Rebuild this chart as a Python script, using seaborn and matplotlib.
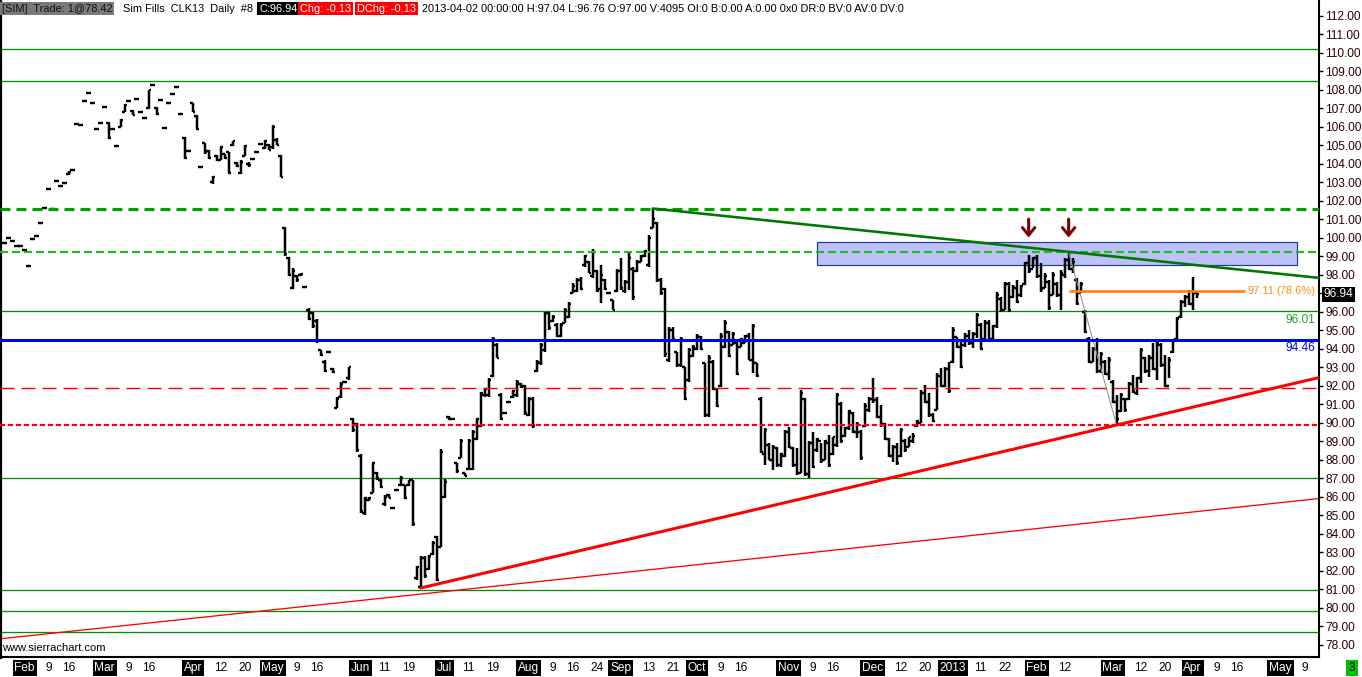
import pandas as pd
import matplotlib
matplotlib.use("Agg")
import matplotlib.pyplot as plt
import matplotlib.transforms as mtrans
from matplotlib.patches import Rectangle
import seaborn as sns

# ---------------- DATA (CLK13 daily bars) ----------------
highs = [
    99.68, 100.00, 99.79, 99.52, 99.52, 99.32, 98.44, 99.90, 100.06, 100.81,
    101.62, 102.60, 101.52, 103.08, 102.76, 102.97, 103.60, 103.67, 106.12, 106.06,
    107.40, 107.83, 107.29, 105.86, 106.21, 107.05, 106.24, 105.89, 104.97, 106.40,
    107.20, 107.40, 106.87, 107.50, 106.80, 106.48, 107.99, 108.26, 107.05, 107.45,
    105.94, 107.29, 107.78, 108.15, 106.70, 105.44, 104.66, 107.30, 106.60, 103.82,
    105.11, 104.71, 103.31, 104.45, 104.93, 104.54, 104.62, 105.22, 104.08, 104.18,
    104.98, 104.08, 104.22, 104.61, 105.08, 105.26, 105.08, 106.10, 105.38, 104.45,
    100.56, 98.96, 98.33, 97.97, 98.09, 97.34, 96.17, 95.99, 95.58, 93.92,
    93.38, 93.80, 92.97, 91.40, 92.21, 92.21, 93.02, 90.27, 89.97, 88.29,
    85.97, 85.97, 87.86, 87.35, 86.94, 86.10, 86.15, 85.38, 86.37, 87.09,
    86.64, 86.91, 86.91, 82.27, 82.80, 82.80, 82.86, 83.58, 83.88, 88.56,
    86.94, 90.36, 90.18, 87.84, 89.10, 87.27, 89.10, 89.60, 90.24, 91.67,
    91.85, 92.39, 94.64, 94.28, 91.58, 90.54, 91.13, 91.76, 92.30, 92.12,
    92.03, 91.40, 91.40, 93.38, 94.32, 95.99, 95.99, 95.81, 95.36, 95.36,
    96.17, 96.53, 97.52, 97.79, 97.85, 99.05, 98.74, 99.36, 98.24, 98.51,
    97.74, 97.02, 96.62, 98.28, 98.92, 97.70, 99.14, 98.42, 98.78, 99.05,
    99.32, 100.13, 101.57, 100.85, 97.79, 97.30, 95.18, 95.18, 93.83, 94.64,
    93.02, 94.01, 94.19, 94.79, 94.70, 93.24, 93.65, 93.38, 91.85, 94.82,
    95.54, 94.97, 94.91, 94.37, 94.55, 94.73, 94.82, 95.31, 93.24, 91.40,
    89.69, 88.89, 88.79, 88.70, 88.35, 89.60, 89.75, 88.70, 88.62, 91.76,
    91.32, 89.00, 89.51, 89.16, 88.89, 89.06, 89.33, 89.24, 91.58, 91.13,
    89.78, 90.68, 90.59, 90.05, 89.60, 91.05, 91.40, 92.39, 91.40, 90.95,
    89.97, 89.16, 88.79, 88.89, 89.69, 89.10, 89.24, 89.42, 90.14, 91.76,
    92.03, 91.58, 90.51, 92.66, 92.93, 93.02, 93.29, 95.18, 94.64, 94.46,
    94.82, 95.00, 94.91, 95.90, 95.36, 95.54, 95.54, 95.27, 97.07, 96.80,
    97.61, 97.61, 97.43, 97.70, 97.43, 98.69, 99.05, 98.96, 99.05, 98.60,
    98.06, 97.70, 98.15, 97.61, 98.24, 98.87, 99.23, 98.87, 97.79, 97.61,
    96.08, 94.64, 94.10, 94.55, 93.83, 93.38, 93.56, 92.30, 91.49, 91.58,
    91.32, 92.21, 92.57, 92.48, 94.01, 93.56, 93.65, 94.28, 94.46, 94.28,
    93.65, 93.56, 94.46, 95.72, 96.62, 96.89, 97.16, 97.88, 97.04,
]
lows = [
    99.68, 100.00, 99.79, 99.52, 99.52, 99.32, 98.44, 99.90, 100.06, 100.81,
    101.62, 102.60, 101.52, 103.08, 102.76, 102.97, 103.40, 103.67, 106.12, 106.06,
    107.40, 107.83, 107.29, 105.86, 106.21, 107.05, 105.35, 105.89, 104.97, 105.98,
    106.77, 107.40, 106.60, 107.50, 106.80, 106.48, 106.97, 108.26, 106.64, 107.45,
    105.94, 107.29, 107.78, 108.15, 106.70, 104.27, 104.66, 106.77, 105.80, 103.82,
    104.54, 104.27, 102.92, 104.14, 104.18, 104.27, 103.46, 104.93, 103.82, 103.42,
    104.39, 103.82, 104.22, 104.61, 105.08, 104.81, 104.71, 104.81, 104.98, 103.27,
    99.00, 97.92, 97.22, 97.61, 97.92, 97.34, 95.54, 95.09, 94.29, 93.60,
    92.75, 93.80, 92.70, 90.78, 91.32, 92.21, 92.30, 89.51, 88.43, 85.14,
    85.02, 85.74, 86.19, 86.91, 86.46, 85.50, 85.92, 85.38, 86.37, 86.55,
    85.86, 86.55, 84.39, 81.51, 81.06, 81.60, 82.05, 82.86, 81.42, 83.27,
    85.92, 90.14, 90.18, 87.30, 88.08, 87.09, 87.45, 87.45, 89.07, 89.78,
    91.40, 91.40, 92.48, 93.47, 90.14, 90.54, 91.13, 91.32, 91.40, 91.85,
    90.41, 90.36, 89.69, 92.75, 93.11, 93.83, 95.00, 95.45, 94.64, 94.64,
    95.36, 95.63, 96.98, 97.07, 97.16, 98.42, 98.06, 97.79, 97.07, 96.44,
    97.16, 97.02, 96.08, 97.07, 97.16, 96.98, 97.16, 96.62, 98.15, 98.69,
    98.96, 98.42, 100.49, 97.61, 96.89, 93.56, 93.29, 94.46, 93.02, 93.02,
    91.22, 92.21, 93.56, 93.92, 93.90, 90.32, 90.32, 91.76, 90.86, 91.94,
    94.01, 93.56, 94.19, 92.57, 94.10, 94.28, 93.38, 92.66, 92.48, 88.35,
    87.72, 87.99, 87.45, 87.62, 87.62, 88.16, 88.62, 87.62, 87.18, 87.27,
    87.09, 87.00, 87.54, 88.43, 87.81, 87.99, 87.62, 88.26, 88.70, 88.89,
    89.24, 89.60, 89.42, 89.16, 87.99, 89.78, 90.59, 91.05, 90.24, 89.78,
    89.06, 88.16, 87.89, 87.72, 88.16, 88.43, 88.70, 88.89, 89.78, 89.97,
    91.05, 90.32, 90.05, 90.68, 91.94, 91.94, 91.58, 93.20, 94.01, 92.93,
    94.10, 94.19, 94.01, 94.55, 93.92, 94.46, 94.37, 94.37, 95.09, 95.99,
    96.08, 95.99, 96.71, 96.44, 96.80, 97.43, 98.06, 98.33, 97.79, 97.07,
    97.25, 96.08, 96.89, 96.80, 96.08, 97.79, 98.24, 98.06, 96.35, 96.98,
    94.82, 93.20, 93.29, 92.66, 92.66, 92.57, 92.30, 91.05, 89.87, 90.59,
    90.59, 91.22, 91.58, 91.49, 92.12, 92.66, 92.48, 92.84, 92.30, 93.02,
    91.94, 92.39, 93.74, 94.46, 95.65, 96.26, 96.35, 96.08, 96.76,
]
opens = [
    99.68, 100.00, 99.79, 99.52, 99.52, 99.32, 98.44, 99.90, 100.06, 100.81,
    101.62, 102.60, 101.52, 103.08, 102.76, 102.97, 103.45, 103.67, 106.12, 106.06,
    107.40, 107.83, 107.29, 105.86, 106.21, 107.05, 106.20, 105.89, 104.97, 106.00,
    106.80, 107.40, 106.85, 107.50, 106.80, 106.48, 107.00, 108.26, 107.00, 107.45,
    105.94, 107.29, 107.78, 108.15, 106.70, 105.40, 104.66, 107.25, 106.55, 103.82,
    105.10, 104.70, 103.00, 104.40, 104.20, 104.50, 104.60, 105.00, 104.05, 103.50,
    104.40, 104.00, 104.22, 104.61, 105.08, 104.85, 105.00, 104.90, 105.30, 104.40,
    100.50, 98.90, 97.30, 97.90, 98.00, 97.34, 96.10, 95.90, 95.50, 93.90,
    93.30, 93.80, 92.90, 90.80, 91.40, 92.21, 92.40, 90.20, 89.90, 88.20,
    85.10, 85.80, 86.20, 87.30, 86.90, 85.60, 86.10, 85.38, 86.37, 86.60,
    86.60, 86.60, 86.90, 81.60, 81.10, 82.70, 82.10, 82.90, 83.80, 83.30,
    86.00, 90.30, 90.18, 87.80, 88.10, 87.25, 87.50, 87.50, 89.10, 89.80,
    91.50, 91.50, 92.50, 94.20, 91.50, 90.54, 91.13, 91.40, 91.50, 92.10,
    92.00, 90.40, 91.30, 92.80, 93.20, 93.90, 95.90, 95.50, 95.30, 94.70,
    95.40, 95.70, 97.00, 97.10, 97.70, 98.50, 98.70, 97.90, 98.20, 97.20,
    97.70, 97.02, 96.60, 97.10, 98.20, 97.10, 97.60, 98.30, 98.20, 98.70,
    99.00, 98.50, 100.50, 100.80, 97.70, 97.20, 93.40, 95.00, 93.80, 93.10,
    93.00, 92.30, 93.60, 94.00, 94.60, 93.20, 90.40, 93.30, 91.80, 92.00,
    94.10, 94.90, 94.20, 94.30, 94.10, 94.30, 94.70, 93.40, 93.20, 91.30,
    88.30, 88.80, 88.00, 88.60, 87.70, 88.20, 89.50, 88.60, 87.70, 87.30,
    91.30, 87.20, 88.90, 88.50, 89.00, 88.00, 88.90, 88.30, 88.80, 91.00,
    89.30, 89.70, 90.50, 89.50, 89.50, 89.80, 90.70, 91.30, 91.20, 90.30,
    89.90, 89.10, 88.20, 88.70, 88.20, 89.00, 88.70, 89.00, 89.80, 90.00,
    91.60, 91.10, 90.40, 90.70, 92.50, 92.00, 92.90, 93.30, 94.60, 94.10,
    94.20, 94.70, 94.30, 94.80, 95.30, 94.50, 95.40, 94.50, 95.20, 96.70,
    96.10, 97.50, 96.80, 97.30, 96.90, 97.50, 98.60, 98.30, 98.90, 97.90,
    97.30, 97.60, 96.90, 97.50, 96.90, 98.00, 98.80, 98.30, 97.70, 97.00,
    96.00, 94.50, 93.30, 94.00, 92.80, 93.30, 92.60, 92.20, 91.10, 90.60,
    91.30, 91.30, 92.10, 91.60, 92.40, 93.50, 92.80, 93.50, 92.90, 94.20,
    93.10, 92.00, 93.80, 94.50, 95.70, 96.50, 96.80, 96.40, 97.00,
]
closes = [
    99.68, 100.00, 99.79, 99.52, 99.52, 99.32, 98.44, 99.90, 100.06, 100.81,
    101.62, 102.60, 101.52, 103.08, 102.76, 102.97, 103.55, 103.67, 106.12, 106.06,
    107.40, 107.83, 107.29, 105.86, 106.21, 107.05, 105.40, 105.89, 104.97, 106.35,
    107.15, 107.40, 106.65, 107.50, 106.80, 106.48, 107.95, 108.26, 106.70, 107.45,
    105.94, 107.29, 107.78, 108.15, 106.70, 104.30, 104.66, 106.80, 105.85, 103.82,
    104.60, 104.30, 103.30, 104.20, 104.90, 104.30, 103.50, 105.20, 103.85, 104.10,
    104.95, 103.90, 104.22, 104.61, 105.08, 105.20, 104.75, 106.00, 105.00, 103.30,
    99.10, 98.00, 98.20, 97.70, 98.05, 97.34, 95.60, 95.20, 94.40, 93.65,
    92.80, 93.80, 92.75, 91.30, 92.10, 92.21, 93.00, 89.60, 88.50, 85.20,
    85.90, 85.90, 87.80, 87.00, 86.50, 86.00, 85.95, 85.38, 86.37, 87.00,
    85.90, 86.90, 84.50, 82.20, 82.70, 81.70, 82.80, 83.50, 81.50, 88.40,
    86.80, 90.20, 90.18, 87.40, 89.00, 87.10, 89.00, 89.50, 90.20, 91.60,
    91.80, 92.30, 94.50, 93.50, 90.20, 90.54, 91.13, 91.70, 92.20, 91.90,
    90.50, 91.30, 89.80, 93.30, 94.20, 95.90, 95.10, 95.70, 94.70, 95.30,
    96.10, 96.40, 97.40, 97.70, 97.20, 99.00, 98.10, 99.20, 97.10, 98.00,
    97.20, 97.02, 96.10, 98.20, 97.30, 97.60, 98.90, 96.80, 98.70, 99.00,
    99.30, 100.00, 101.00, 97.70, 97.00, 93.70, 95.00, 94.50, 93.10, 94.50,
    91.30, 93.90, 94.10, 94.70, 94.00, 90.40, 93.50, 91.80, 90.90, 94.70,
    95.40, 93.60, 94.80, 92.60, 94.50, 94.70, 93.40, 95.20, 92.50, 88.40,
    89.60, 88.00, 88.70, 87.70, 88.30, 89.50, 88.70, 87.70, 87.30, 91.60,
    87.20, 88.90, 87.60, 89.10, 87.90, 89.00, 87.70, 89.20, 91.50, 89.00,
    89.70, 90.60, 89.50, 89.90, 88.10, 90.90, 91.30, 91.20, 90.30, 89.90,
    89.10, 88.20, 88.70, 87.80, 89.60, 88.50, 89.20, 89.30, 90.10, 91.60,
    91.10, 90.40, 90.10, 92.50, 92.00, 92.90, 91.70, 95.00, 94.10, 93.00,
    94.70, 94.30, 94.80, 95.80, 94.00, 95.40, 94.50, 95.20, 96.90, 96.10,
    97.50, 96.10, 97.30, 96.50, 97.40, 98.60, 98.20, 98.90, 97.90, 97.20,
    97.90, 96.20, 98.00, 96.90, 98.10, 98.80, 98.30, 98.70, 96.40, 97.50,
    94.90, 93.30, 94.00, 92.80, 93.70, 92.60, 93.40, 91.10, 90.20, 91.50,
    90.70, 92.10, 91.70, 92.40, 93.90, 92.80, 93.50, 92.90, 94.30, 93.10,
    92.00, 93.40, 94.40, 95.60, 96.50, 96.80, 96.40, 97.07, 96.94,
]

# exchange holidays without a daily bar
holidays = ["2012-02-20", "2012-04-06", "2012-05-28", "2012-07-04", "2012-09-03",
            "2012-11-22", "2012-12-25", "2013-01-01", "2013-01-21", "2013-02-18",
            "2013-03-29"]

month_dates = ["2012-02-01", "2012-03-01", "2012-04-02", "2012-05-01", "2012-06-01",
               "2012-07-02", "2012-08-01", "2012-09-04", "2012-10-01", "2012-11-01",
               "2012-12-03", "2013-01-02", "2013-02-01", "2013-03-01", "2013-04-01",
               "2013-05-01"]
month_labels = ["Feb", "Mar", "Apr", "May", "Jun", "Jul", "Aug", "Sep", "Oct", "Nov",
                "Dec", "2013", "Feb", "Mar", "Apr", "May"]
day_dates = ["2012-02-09", "2012-02-16", "2012-03-09", "2012-03-16", "2012-04-12",
             "2012-04-20", "2012-05-09", "2012-05-16", "2012-06-11", "2012-06-19",
             "2012-07-11", "2012-07-19", "2012-08-09", "2012-08-16", "2012-08-24",
             "2012-09-13", "2012-09-21", "2012-10-09", "2012-10-16", "2012-11-09",
             "2012-11-16", "2012-12-12", "2012-12-20", "2013-01-11", "2013-01-22",
             "2013-02-12", "2013-03-12", "2013-03-20", "2013-04-09", "2013-04-16",
             "2013-05-09"]

# drawing levels / tools
thin_green_levels = [110.18, 108.46, 96.01, 87.00, 80.95, 79.81, 78.68]
blue_level = 94.46
green_dash_major = 101.57
green_dash_minor = 99.22
red_dash_long = 91.86
red_dash_short = 89.87
green_trend = (["2012-09-14", "2013-02-13"], [101.57, 99.23])
red_trend = (["2012-06-22", "2013-03-04"], [81.06, 89.87])
red_thin_trend = (["2012-01-25", "2013-04-02"], [78.34, 85.19])
fib_swing = (["2013-02-13", "2013-03-04"], [99.20, 89.87])
fib_level = 97.11
fib_end = "2013-04-18"
zone = (["2012-11-12", "2013-05-07"], [98.50, 99.74])
arrow_dates = ["2013-01-30", "2013-02-13"]

# ---------------- CALENDAR ----------------
cal = pd.bdate_range("2012-01-25", "2013-05-31")
cal = cal[~cal.isin(pd.to_datetime(holidays))]


def pos(d):
    return cal.get_loc(pd.Timestamp(d))


n = min(len(highs), len(lows), len(opens), len(closes))
bars = pd.DataFrame({"date": cal[:n], "high": highs[:n], "low": lows[:n],
                     "open": opens[:n], "close": closes[:n]})
bars["i"] = range(n)

# ---------------- STYLE ----------------
sns.set_style("white")
plt.rcParams["font.family"] = ["Liberation Sans", "DejaVu Sans"]
plt.rcParams["lines.scale_dashes"] = False

W, H = 1362, 677
fig = plt.figure(figsize=(W / 100, H / 100), dpi=100)
ax = fig.add_axes([0, 20 / H, 1319 / W, 657 / H])
PX = 0.72  # points per pixel

xmin, xmax = -1.175, 328.6
ax.set_xlim(xmin, xmax)
ax.set_ylim(77.33, 112.84)

# zone rectangle
z0, z1 = pos(zone[0][0]), pos(zone[0][1])
ax.add_patch(Rectangle((z0, zone[1][0]), z1 - z0, zone[1][1] - zone[1][0],
                       facecolor="#c0c0f8", edgecolor="#1c3f94", lw=1.2 * PX, zorder=1))

# horizontal levels
for lv in thin_green_levels:
    ax.axhline(lv, color="#009000", lw=1.3 * PX, zorder=2)
ax.axhline(blue_level, color="#0000ff", lw=3 * PX, zorder=6)
ax.axhline(green_dash_major, color="#00a000", lw=3.2 * PX,
           linestyle=(0, (10 * PX, 6 * PX)), zorder=6)
ax.axhline(green_dash_minor, color="#22bb22", lw=2.2 * PX,
           linestyle=(0, (8 * PX, 4 * PX)), zorder=6)
ax.axhline(red_dash_long, color="#ff0000", lw=1.4 * PX,
           linestyle=(0, (14 * PX, 7 * PX)), zorder=6)
ax.axhline(red_dash_short, color="#ff0000", lw=2.2 * PX,
           linestyle=(0, (5 * PX, 3 * PX)), zorder=6)


def trend(anchors, start=None, end=None):
    (d0, d1), (p0, p1) = anchors
    x0, x1 = pos(d0), pos(d1)
    slope = (p1 - p0) / (x1 - x0)
    xs = x0 if start is None else start
    xe = x1 if end is None else end
    return [xs, xe], [p0 + slope * (xs - x0), p0 + slope * (xe - x0)]


gx, gy = trend(green_trend, end=xmax)
sns.lineplot(x=gx, y=gy, ax=ax, color="#007800", linewidth=2.6 * PX, zorder=7)
rx, ry = trend(red_trend, end=xmax)
sns.lineplot(x=rx, y=ry, ax=ax, color="#ff0000", linewidth=3 * PX, zorder=7)
tx, ty = trend(red_thin_trend, start=xmin, end=xmax)
sns.lineplot(x=tx, y=ty, ax=ax, color="#ff0000", linewidth=1.3 * PX, zorder=2)
fx, fy = trend(fib_swing)
sns.lineplot(x=fx, y=fy, ax=ax, color="#909090", linewidth=1.0 * PX, zorder=5)
ax.hlines(fib_level, pos(fib_swing[0][0]), pos(fib_end), color="#ff8000",
          lw=2.6 * PX, zorder=7)

xr = mtrans.blended_transform_factory(ax.transAxes, ax.transData)
ax.text(pos(fib_end) + 0.6, fib_level, "97.11", color="#ff8c1a",
        fontsize=8.0, ha="left", va="center", zorder=8)
ax.text(0.9975, fib_level, "(78.6%)", transform=xr, color="#ff8c1a",
        fontsize=8.0, ha="right", va="center", zorder=8)

# OHLC bars
ax.vlines(bars["i"], bars["low"], bars["high"], color="black", lw=2.5 * PX, zorder=4)
ax.hlines(bars["open"], bars["i"] - 0.55, bars["i"], color="black", lw=2.4 * PX, zorder=4)
ax.hlines(bars["close"], bars["i"], bars["i"] + 0.55, color="black", lw=2.4 * PX, zorder=4)

# arrows
for d in arrow_dates:
    k = pos(d)
    ax.annotate("", xy=(k, 99.85), xytext=(k, 101.15),
                arrowprops=dict(arrowstyle="->, head_width=0.45, head_length=0.55",
                                lw=3 * PX, color="#7f0000"), zorder=9)

# level labels
ax.text(0.9975, 96.01 - 0.12, "96.01", transform=xr, color="#22a022",
        fontsize=8.6, ha="right", va="top")
ax.text(0.9975, blue_level - 0.12, "94.46", transform=xr, color="#0000ff",
        fontsize=8.6, ha="right", va="top")

# right price axis
ax.yaxis.tick_right()
ax.set_yticks(range(78, 113))
ax.set_yticklabels([f"{v:.2f}" for v in range(78, 113)])
ax.tick_params(axis="y", direction="out", length=3, width=1, colors="black",
               labelcolor="#300000", labelsize=8.6, pad=1.5)
ax.text(1.0035, closes[n - 1], f"{closes[n - 1]:.2f}", transform=xr, color="white",
        fontsize=8.6, ha="left", va="center",
        bbox=dict(boxstyle="square,pad=0.12", fc="black", ec="none"), clip_on=False)

# bottom date axis
mpos = [pos(d) for d in month_dates]
dpos = [pos(d) for d in day_dates]
ax.set_xticks(mpos + dpos)
ax.set_xticklabels([])
ax.tick_params(axis="x", direction="out", length=3, width=1, colors="black")
xb = mtrans.blended_transform_factory(ax.transData, fig.transFigure)
ylab = 1 - 668 / H
for p, lab in zip(mpos, month_labels):
    ax.text(p, ylab, lab, transform=xb, color="white", fontsize=8.6, ha="center",
            va="center", clip_on=False,
            bbox=dict(boxstyle="square,pad=0.15", fc="black", ec="none"))
for p, d in zip(dpos, day_dates):
    ax.text(p, ylab, str(pd.Timestamp(d).day), transform=xb, color="black",
            fontsize=8.6, ha="center", va="center", clip_on=False)

for side in ["left", "bottom", "right"]:
    ax.spines[side].set_color("black")
    ax.spines[side].set_linewidth(1.5)
ax.spines["left"].set_linewidth(3)
ax.spines["top"].set_visible(False)
ax.grid(False)

# header line
ytop = 1 - 8.5 / H
header = [
    (2, "[SIM]  Trade: 1@78.42", "#101010", "#7a7a7a"),
    (123, "Sim Fills  CLK13  Daily  #8", "black", None),
    (259, "C:96.94", "white", "black"),
    (300, "Chg: -0.13", "white", "#ff0000"),
    (357, "DChg: -0.13", "white", "#ff0000"),
    (422, "2013-04-02 00:00:00 H:97.04 L:96.76 O:97.00 V:4095 OI:0 B:0.00 A:0.00 "
          "0x0 DR:0 BV:0 AV:0 DV:0", "black", None),
]
for x, s, fg, bg in header:
    kw = {}
    if bg is not None:
        kw["bbox"] = dict(boxstyle="square,pad=0.15", fc=bg, ec="none")
    fig.text(x / W, ytop, s, color=fg, fontsize=7.9, ha="left", va="center", **kw)

fig.text(2 / W, 1 - 648 / H, "www.sierrachart.com", color="black", fontsize=8,
         ha="left", va="center")
fig.text(1352 / W, ylab, "3", color="black", fontsize=8.6, ha="center", va="center",
         bbox=dict(boxstyle="square,pad=0.2", fc="#00c000", ec="none"))

fig.savefig("out.png", dpi=100)
